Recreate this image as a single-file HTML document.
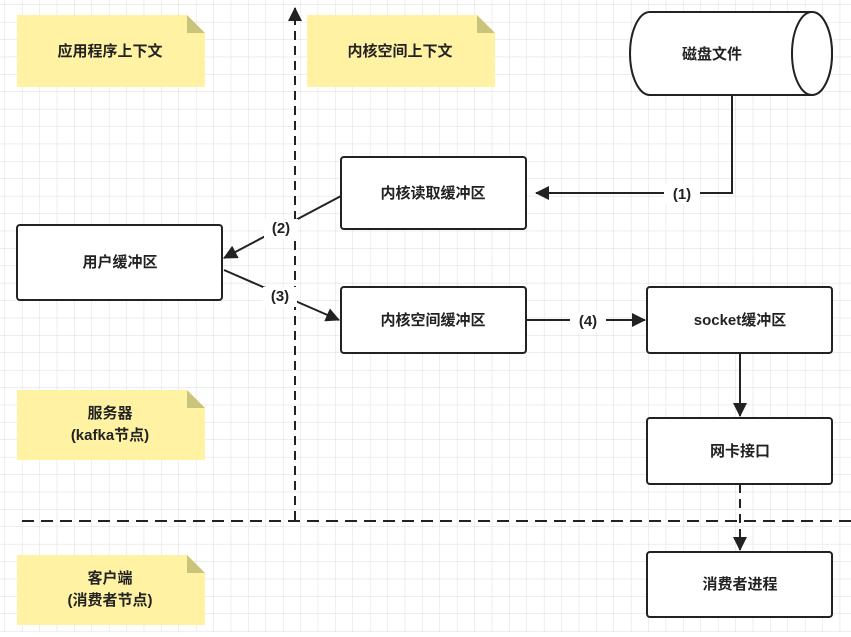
<!DOCTYPE html>
<html><head><meta charset="utf-8"><style>
html,body{margin:0;padding:0;background:#fff;}
svg text{font-family:"Liberation Sans","Noto Sans CJK SC",sans-serif;font-weight:bold;font-size:15px;fill:#222;text-anchor:middle;dominant-baseline:middle;}
</style></head><body>
<svg width="851" height="632" xmlns="http://www.w3.org/2000/svg">
<defs>
<pattern id="g" width="17.4" height="17.4" patternUnits="userSpaceOnUse" x="5" y="5">
<path d="M17.4 0V17.4H0" fill="none" stroke="#dcdcdc" stroke-width="1"/>
</pattern>
<marker id="b" markerWidth="14" markerHeight="14" refX="13" refY="7" orient="auto" markerUnits="userSpaceOnUse"><path d="M0 0L14 7L0 14Z" fill="#222"/></marker>
</defs>
<rect width="851" height="632" fill="url(#g)"/>
<g fill="#fff2a3">
<path d="M17 15H187L205 33V87H17Z"/><path d="M307 15H477L495 33V87H307Z"/>
<path d="M17 390H187L205 408V460H17Z"/><path d="M17 555H187L205 573V625H17Z"/>
</g>
<g fill="#c9c47a">
<path d="M187 15L205 33H187Z"/><path d="M477 15L495 33H477Z"/><path d="M187 390L205 408H187Z"/><path d="M187 555L205 573H187Z"/>
</g>
<text x="110" y="52">应用程序上下文</text>
<text x="400" y="52">内核空间上下文</text>
<text x="110" y="414">服务器</text><text x="110" y="436">(kafka节点)</text>
<text x="110" y="579">客户端</text><text x="110" y="601">(消费者节点)</text>
<g stroke="#222" stroke-width="2" fill="#fff">
<path d="M650 12H812A20 41.5 0 0 1 812 95H650A20 41.5 0 0 1 650 12Z"/>
<ellipse cx="812" cy="53.5" rx="20" ry="41.5"/>
<rect x="341" y="157" width="185" height="72" rx="3"/>
<rect x="17" y="225" width="205" height="75" rx="3"/>
<rect x="341" y="287" width="185" height="66" rx="3"/>
<rect x="647" y="287" width="185" height="66" rx="3"/>
<rect x="647" y="418" width="185" height="66" rx="3"/>
<rect x="647" y="552" width="185" height="65" rx="3"/>
</g>
<text x="712" y="55">磁盘文件</text>
<text x="433" y="194">内核读取缓冲区</text>
<text x="120" y="263">用户缓冲区</text>
<text x="433" y="321">内核空间缓冲区</text>
<text x="740" y="321">socket缓冲区</text>
<text x="740" y="452">网卡接口</text>
<text x="740" y="585">消费者进程</text>
<g stroke="#222" stroke-width="2" fill="none">
<path d="M295 520V8" stroke-dasharray="9 6" marker-end="url(#b)"/>
<path d="M22 521H851" stroke-dasharray="12 7"/>
<path d="M732 95V193H536" marker-end="url(#b)"/>
<path d="M341 196L224 258" marker-end="url(#b)"/>
<path d="M224 270L339 320" marker-end="url(#b)"/>
<path d="M526 320H645" marker-end="url(#b)"/>
<path d="M740 353V416" marker-end="url(#b)"/>
<path d="M740 484V550" stroke-dasharray="9 6" marker-end="url(#b)"/>
</g>
<g>
<rect x="664" y="184" width="36" height="20" fill="#fff"/><text x="682" y="195">(1)</text>
<rect x="264" y="219" width="34" height="20" fill="#fff"/><text x="281" y="229">(2)</text>
<rect x="263" y="287" width="34" height="20" fill="#fff"/><text x="280" y="297">(3)</text>
<rect x="570" y="312" width="36" height="20" fill="#fff"/><text x="588" y="322">(4)</text>
</g>
</svg>
</body></html>
